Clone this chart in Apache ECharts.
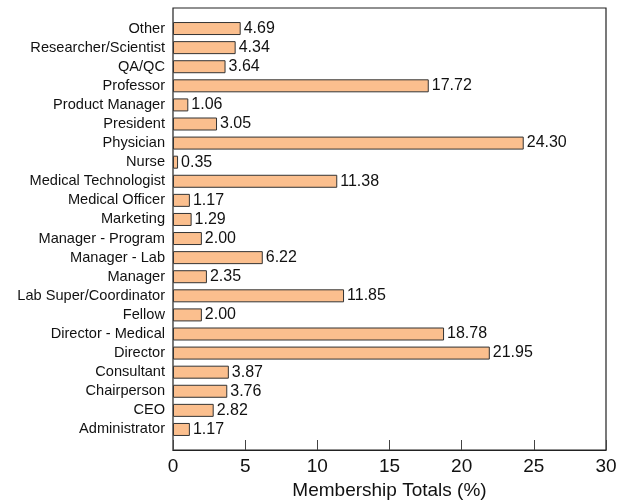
<!DOCTYPE html>
<html>
<head>
<meta charset="utf-8">
<script src="https://cdn.jsdelivr.net/npm/echarts@6/dist/echarts.min.js"></script>
<style>
  html, body { margin: 0; padding: 0; background: #fff; }
  #main { width: 624px; height: 501px; }
</style>
</head>
<body>
<div id="main"></div>
<script>
// categories listed bottom to top
var roles = ['Administrator', 'CEO', 'Chairperson', 'Consultant', 'Director', 'Director - Medical',
  'Fellow', 'Lab Super/Coordinator', 'Manager', 'Manager - Lab', 'Manager - Program', 'Marketing',
  'Medical Officer', 'Medical Technologist', 'Nurse', 'Physician', 'President', 'Product Manager',
  'Professor', 'QA/QC', 'Researcher/Scientist', 'Other'];
var totals = [1.17, 2.82, 3.76, 3.87, 21.95, 18.78, 2.00, 11.85, 2.35, 6.22, 2.00, 1.29,
  1.17, 11.38, 0.35, 24.30, 3.05, 1.06, 17.72, 3.64, 4.34, 4.69];
var xTicks = [0, 5, 10, 15, 20, 25, 30];

var font = '"Liberation Sans Narrow", "Liberation Sans", Arial, sans-serif';
var chart = echarts.init(document.getElementById('main'));

chart.setOption({
  animation: false,
  grid: [
    // bars
    { left: 173, right: 18, top: 19, bottom: 62, outerBoundsMode: 'none' },
    // frame + x axis
    { left: 173, right: 18, top: 8, bottom: 51, outerBoundsMode: 'none', show: true, borderColor: '#222', borderWidth: 1.2, backgroundColor: 'transparent' }
  ],
  xAxis: [
    { gridIndex: 0, type: 'value', min: xTicks[0], max: xTicks[xTicks.length - 1], show: false },
    {
      gridIndex: 1, type: 'value', min: xTicks[0], max: xTicks[xTicks.length - 1], interval: 5,
      name: 'Membership Totals (%)', nameLocation: 'middle', nameGap: 30,
      nameTextStyle: { fontFamily: font, fontSize: 19, color: '#111' },
      axisLine: { show: true, lineStyle: { color: '#222', width: 1.2 } },
      axisTick: { show: true, inside: true, length: 10, lineStyle: { color: '#444' } },
      axisLabel: { fontFamily: font, fontSize: 19, color: '#111', margin: 7 },
      splitLine: { show: false }
    }
  ],
  yAxis: [
    {
      gridIndex: 0, type: 'category', data: roles,
      axisLine: { show: false }, axisTick: { show: false },
      axisLabel: { interval: 0, fontFamily: font, fontSize: 14.6, color: '#111', margin: 8 }
    },
    { gridIndex: 1, type: 'value', show: false }
  ],
  series: [{
    type: 'bar',
    xAxisIndex: 0, yAxisIndex: 0,
    data: totals,
    barWidth: 13,
    itemStyle: { color: '#FBBF8E', borderColor: '#333', borderWidth: 1 },
    label: {
      show: true, position: 'right', distance: 3,
      fontFamily: font, fontSize: 16, color: '#111',
      formatter: function (p) { return p.value.toFixed(2); }
    }
  }]
});
</script>
</body>
</html>
